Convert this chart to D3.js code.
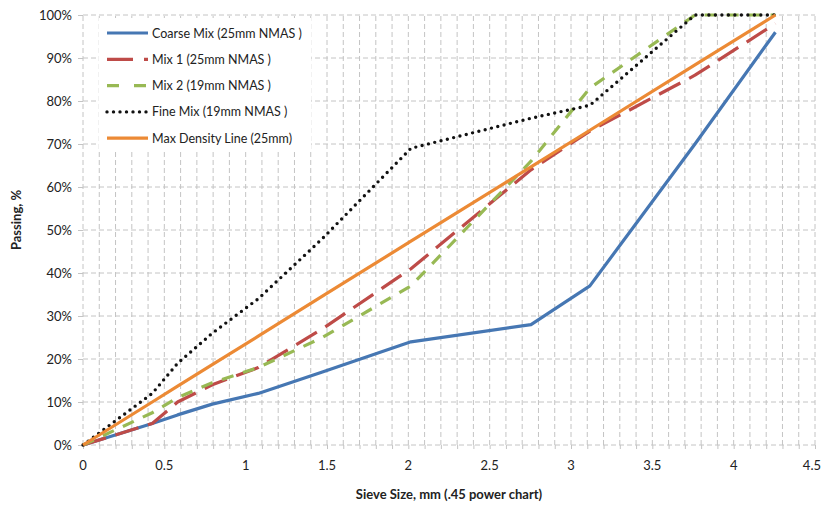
<!DOCTYPE html>
<html>
<head>
<meta charset="utf-8">
<script src="https://cdn.jsdelivr.net/npm/d3@7"></script>
<style>
  body { margin: 0; background: #fff; }
  text { font-family: Lato, "Open Sans", sans-serif; fill: #222; }
</style>
</head>
<body>
<script>
// sieve sizes in mm (0 = pan / origin), plotted at size^0.45
var sieves = [0, 0.15, 0.3, 0.6, 1.18, 2.36, 4.75, 9.5, 12.5, 19, 25];

// percent passing
var coarseMix = [0, 5, 7, 9.5, 12, 17, 24, 28, 37, 70, 96];
var mix1      = [0, 5, 10, 14, 18, 27, 41, 64, 73, 86, 98];
var mix2      = [0, 7.5, 11, 14.5, 18, 25, 37, 66, 83, 100, 100];
var fineMix   = [0, 12, 19, 26, 34, 48, 69, 76, 79, 100, 100];
var maxDensity = [0, 10, 13.7, 18.7, 25.3, 34.6, 47.4, 64.7, 73.2, 88.4, 100];

var seriesNames = ["Coarse Mix (25mm NMAS )", "Mix 1 (25mm NMAS )", "Mix 2 (19mm NMAS )",
                   "Fine Mix (19mm NMAS )", "Max Density Line (25mm)"];
var xTicks = [0, 0.5, 1, 1.5, 2, 2.5, 3, 3.5, 4, 4.5];
var yTicks = [0, 10, 20, 30, 40, 50, 60, 70, 80, 90, 100];

var series = [
  { name: seriesNames[0], values: coarseMix, color: "#4677B3", dash: null, cap: "butt", w: 3.2 },
  { name: seriesNames[1], values: mix1, color: "#BE4B48", dash: "24,10", cap: "butt", w: 3.2 },
  { name: seriesNames[2], values: mix2, color: "#98B954", dash: "12,10", cap: "butt", w: 3.2 },
  { name: seriesNames[3], values: fineMix, color: "#111", dash: "0,6.5", cap: "round", w: 3.4 },
  { name: seriesNames[4], values: maxDensity, color: "#EC8A35", dash: null, cap: "butt", w: 3.2 }
];

var width = 822, height = 506;
var m = { left: 83, right: 7, top: 15, bottom: 61 };

var svg = d3.select("body").append("svg")
    .attr("width", width)
    .attr("height", height);

var x = d3.scaleLinear().domain([0, 4.5]).range([m.left, width - m.right]);
var y = d3.scaleLinear().domain([0, 100]).range([height - m.bottom, m.top]);

var grid = svg.append("g").attr("stroke", "#C4C4C4").attr("stroke-dasharray", "5,3");

// vertical minor grid every 0.1
d3.range(1, 46).forEach(function(i) {
  var v = i / 10;
  grid.append("line")
    .attr("x1", x(v)).attr("x2", x(v))
    .attr("y1", y(0)).attr("y2", y(100));
});
// horizontal grid every 10%
yTicks.forEach(function(t) {
  grid.append("line")
    .attr("x1", x(0)).attr("x2", x(4.5))
    .attr("y1", y(t)).attr("y2", y(t));
});
// y axis line
grid.append("line").attr("x1", x(0)).attr("x2", x(0)).attr("y1", y(0)).attr("y2", y(100));

// axes with ticks
var yAxis = d3.axisLeft(y).tickValues(yTicks).tickSize(5).tickPadding(6)
    .tickFormat(function(d) { return d + "%"; });
var gy = svg.append("g").attr("transform", "translate(" + x(0) + ",0)").call(yAxis);
gy.select(".domain").remove();
gy.selectAll(".tick line").attr("stroke", "#C4C4C4");
gy.selectAll("text").style("font-size", "13px").attr("fill", "#222");

var xAxis = d3.axisBottom(x).tickValues(d3.range(0, 46).map(function(i) { return i / 10; }))
    .tickSize(4).tickFormat("");
var gx = svg.append("g").attr("transform", "translate(0," + y(0) + ")").call(xAxis);
gx.select(".domain").remove();
gx.selectAll(".tick line").attr("stroke", "#C4C4C4");

// x tick labels; the last one is pulled in so it stays inside the page
svg.append("g").selectAll("text").data(xTicks).enter().append("text")
  .attr("x", function(d) { return d == 4.5 ? width - 1 : x(d); })
  .attr("y", y(0) + 25)
  .attr("text-anchor", function(d) { return d == 4.5 ? "end" : "middle"; })
  .style("font-size", "13px")
  .text(function(d) { return d; });

// axis titles
svg.append("text")
  .attr("x", (x(0) + x(4.5)) / 2)
  .attr("y", 499)
  .attr("text-anchor", "middle")
  .style("font-size", "13px")
  .style("font-weight", "bold")
  .text("Sieve Size, mm (.45 power chart)");

svg.append("text")
  .attr("transform", "translate(21,220) rotate(-90)")
  .attr("text-anchor", "middle")
  .style("font-size", "13px")
  .style("font-weight", "bold")
  .text("Passing, %");

// series lines
var line = d3.line()
  .x(function(d) { return x(Math.pow(d[0], 0.45)); })
  .y(function(d) { return y(d[1]); });

series.forEach(function(s) {
  var pts = sieves.map(function(sv, i) { return [sv, s.values[i]]; });
  svg.append("path")
    .datum(pts)
    .attr("d", line)
    .attr("fill", "none")
    .attr("stroke", s.color)
    .attr("stroke-width", s.w)
    .attr("stroke-linejoin", "round")
    .attr("stroke-linecap", s.cap)
    .attr("stroke-dasharray", s.dash);
});

// legend
var lg = svg.append("g");
lg.append("rect")
  .attr("x", 99).attr("y", 18).attr("width", 212).attr("height", 134)
  .attr("fill", "#fff");
series.forEach(function(s, i) {
  var ly = 33 + i * 26.3;
  lg.append("line")
    .attr("x1", 107).attr("x2", 148)
    .attr("y1", ly).attr("y2", ly)
    .attr("stroke", s.color)
    .attr("stroke-width", s.w)
    .attr("stroke-linecap", s.cap)
    .attr("stroke-dasharray", i == 1 ? "26,11" : i == 2 ? "12,15" : s.dash);
  lg.append("text")
    .attr("x", 152).attr("y", ly + 4.5)
    .style("font-size", "12.5px")
    .text(s.name);
});
</script>
</body>
</html>
